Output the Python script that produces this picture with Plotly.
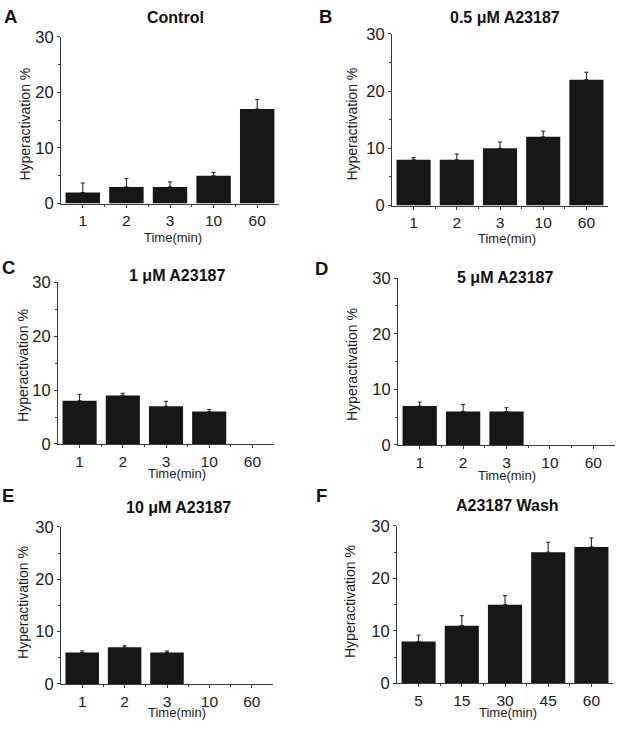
import plotly.graph_objects as go

# ---- data ----
times_main = ["1", "2", "3", "10", "60"]
times_wash = ["5", "15", "30", "45", "60"]

control = [2, 3, 3, 5, 17]
control_err = [1.7, 1.5, 0.9, 0.6, 1.7]

a23187_05 = [8, 8, 10, 12, 22]
a23187_05_err = [0.4, 1.0, 1.1, 1.0, 1.3]

a23187_1 = [8, 9, 7, 6, None]
a23187_1_err = [1.2, 0.4, 0.9, 0.4, None]

a23187_5 = [7, 6, 6, None, None]
a23187_5_err = [0.7, 1.3, 0.7, None, None]

a23187_10 = [6, 7, 6, None, None]
a23187_10_err = [0.3, 0.3, 0.3, None, None]

wash = [8, 11, 15, 25, 26]
wash_err = [1.2, 1.9, 1.7, 1.9, 1.7]

titles = ["Control", "0.5 \u03bcM A23187", "1 \u03bcM A23187",
          "5 \u03bcM A23187", "10 \u03bcM A23187", "A23187 Wash"]
letters = ["A", "B", "C", "D", "E", "F"]
y_ticks = [0, 10, 20, 30]

series = [(control, control_err, times_main),
          (a23187_05, a23187_05_err, times_main),
          (a23187_1, a23187_1_err, times_main),
          (a23187_5, a23187_5_err, times_main),
          (a23187_10, a23187_10_err, times_main),
          (wash, wash_err, times_wash)]

# ---- layout geometry (page pixels, compensated for the capture's vertical squeeze) ----
W, H = 620, 729
# plot boxes: x0, x1, ytop, ybottom
boxes = [(61, 279, 28.5, 199.5), (392, 608, 25.5, 201.5),
         (58, 274, 280, 446), (398, 615, 276, 447),
         (61, 273, 531, 692), (397, 613, 530, 691.5)]
title_pos = [(175, 9), (505, 9), (177, 273), (505, 275), (178, 511), (507, 509)]
letter_pos = [(10, 7.5), (325, 7.5), (8, 265), (321, 266), (8, 498.5), (321, 498.5)]
ytitle_pos = [(25, 118.5), (352, 118.5), (23, 366), (352, 365), (23, 609), (350, 608)]
xtitle_pos = [(173, 234.5), (507, 235.5), (177, 476.5), (507, 478.5), (177, 721.5), (508, 721.5)]

FONT = "Arial, Liberation Sans, sans-serif"
BAR = "#171717"
AX = "#3a3a3a"

def px(x):
    return x / W

def py(y):
    return 1 - y / H

fig = go.Figure()
annotations = []
for i, ((vals, errs, cats), box) in enumerate(zip(series, boxes)):
    n = i + 1
    xa = "x" if n == 1 else f"x{n}"
    ya = "y" if n == 1 else f"y{n}"
    fig.add_trace(go.Bar(
        x=list(range(len(cats))), y=vals,
        xaxis=xa, yaxis=ya,
        marker=dict(color=BAR, line=dict(width=0)),
        error_y=dict(type="data", array=errs, arrayminus=[0] * len(errs),
                     symmetric=False, color=BAR, thickness=1, width=2),
        showlegend=False,
    ))
    x0, x1, yt, yb = box
    xkey = "xaxis" if n == 1 else f"xaxis{n}"
    ykey = "yaxis" if n == 1 else f"yaxis{n}"
    fig.update_layout({
        xkey: dict(domain=[px(x0), px(x1)], anchor=ya, range=[-0.5, 4.5],
                   tickmode="array", tickvals=list(range(len(cats))), ticktext=cats,
                   ticks="outside", ticklen=3, tickwidth=1, tickcolor=AX,
                   showline=True, linecolor=AX, linewidth=1, showgrid=False,
                   zeroline=False, fixedrange=True,
                   tickfont=dict(family=FONT, size=15.5, color="#1a1a1a"),
                   minor=dict(tickvals=[0.5, 1.5, 2.5, 3.5], ticks="outside",
                              ticklen=2, tickcolor=AX, showgrid=False)),
        ykey: dict(domain=[py(yb), py(yt)], anchor=xa, range=[0, 30],
                   tickmode="array", tickvals=y_ticks,
                   ticks="outside", ticklen=3, tickwidth=1, tickcolor=AX,
                   showline=True, linecolor=AX, linewidth=1, showgrid=False,
                   zeroline=False, fixedrange=True,
                   tickfont=dict(family=FONT, size=16.5, color="#1a1a1a"),
                   minor=dict(tickvals=[5, 15, 25], ticks="outside",
                              ticklen=2, tickcolor=AX, showgrid=False)),
    })
    tx, ty = title_pos[i]
    annotations.append(dict(x=px(tx), y=py(ty), xref="paper", yref="paper",
                            text=f"<b>{titles[i]}</b>", showarrow=False,
                            xanchor="center", yanchor="middle",
                            font=dict(family=FONT, size=16, color="#111")))
    lx, ly = letter_pos[i]
    annotations.append(dict(x=px(lx), y=py(ly), xref="paper", yref="paper",
                            text=f"<b>{letters[i]}</b>", showarrow=False,
                            xanchor="center", yanchor="middle",
                            font=dict(family=FONT, size=18.5, color="#111")))
    yx, yy = ytitle_pos[i]
    annotations.append(dict(x=px(yx), y=py(yy), xref="paper", yref="paper",
                            text="Hyperactivation %", textangle=-90, showarrow=False,
                            xanchor="center", yanchor="middle",
                            font=dict(family=FONT, size=14, color="#1a1a1a")))
    xx, xy = xtitle_pos[i]
    annotations.append(dict(x=px(xx), y=py(xy), xref="paper", yref="paper",
                            text="Time(min)", showarrow=False,
                            xanchor="center", yanchor="middle",
                            font=dict(family=FONT, size=13, color="#1a1a1a")))

fig.update_layout(width=W, height=H, margin=dict(l=0, r=0, t=0, b=0),
                  paper_bgcolor="white", plot_bgcolor="white",
                  bargap=0.21, annotations=annotations,
                  font=dict(family=FONT))
fig.write_html("out.html", config={"displayModeBar": False},
               post_script="document.body.style.margin='0';document.body.style.overflow='hidden';")
